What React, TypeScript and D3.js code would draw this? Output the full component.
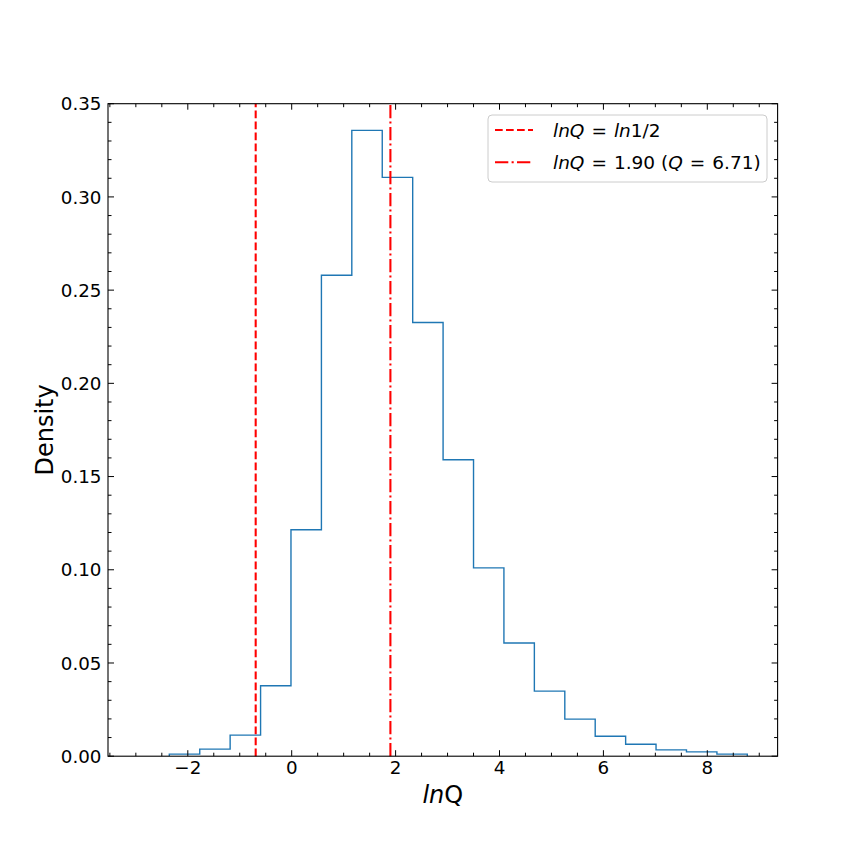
import React from "react";
import * as d3 from "d3";

// Histogram bin edges (lnQ) and densities
const binEdges = [-2.356, -1.770, -1.185, -0.599, -0.014, 0.572, 1.157, 1.743, 2.329, 2.914, 3.500, 4.085, 4.671, 5.257, 5.842, 6.428, 7.013, 7.599, 8.185, 8.770];
const densities = [0.0011, 0.0038, 0.0113, 0.0378, 0.1215, 0.258, 0.3357, 0.3105, 0.2326, 0.159, 0.101, 0.0607, 0.0349, 0.0199, 0.0107, 0.0064, 0.0034, 0.0023, 0.0011];

const xMajorTicks = [-2, 0, 2, 4, 6, 8];
const yMajorTicks = [0, 0.05, 0.1, 0.15, 0.2, 0.25, 0.3, 0.35];
const xDomain = [-3.536, 9.353];
const yDomain = [0, 0.35];

const lineHalf = Math.log(0.5);
const lineBest = 1.90;

const W = 864, H = 864;
const L = 108, R = 777.6, T = 103.7, B = 756.2;

export default function App() {
  const x = d3.scaleLinear().domain(xDomain).range([L, R]);
  const y = d3.scaleLinear().domain(yDomain).range([B, T]);

  // step outline path
  const pts: [number, number][] = [];
  pts.push([binEdges[0], 0]);
  densities.forEach((d, i) => {
    pts.push([binEdges[i], d]);
    pts.push([binEdges[i + 1], d]);
  });
  pts.push([binEdges[binEdges.length - 1], 0]);
  const line = d3.line<[number, number]>().x((d) => x(d[0])).y((d) => y(d[1]));
  const histPath = line(pts) || "";

  const xMinor = d3.range(-3.5, 9.4, 0.5).filter((v) => Math.abs(v / 2 - Math.round(v / 2)) > 1e-6);
  const yMinor = d3.range(0, 0.3501, 0.01).filter((v) => Math.abs(v / 0.05 - Math.round(v / 0.05)) > 1e-6);

  const fmtX = (v: number) => (v < 0 ? "\u2212" + Math.abs(v) : String(v));
  const fmtY = d3.format(".2f");

  const font = "DejaVu Sans, sans-serif";
  const majLen = 6, minLen = 3.5;
  const tickColor = "#000";

  return (
    <svg width={W} height={H} style={{ position: "absolute", left: 0, top: 0, background: "#fff" }} fontFamily={font}>
      <rect x={0} y={0} width={W} height={H} fill="#fff" />
      <defs>
        <clipPath id="plotclip">
          <rect x={L} y={T} width={R - L} height={B - T} />
        </clipPath>
      </defs>

      {/* histogram */}
      <path d={histPath} fill="none" stroke="#1f77b4" strokeWidth={1.4} clipPath="url(#plotclip)" />

      {/* vertical lines */}
      <line x1={x(lineHalf)} x2={x(lineHalf)} y1={B} y2={T} stroke="#ff0000" strokeWidth={2.08} strokeDasharray="7.7,3.3" />
      <line x1={x(lineBest)} x2={x(lineBest)} y1={B} y2={T} stroke="#ff0000" strokeWidth={2.08} strokeDasharray="13.3,3.3,2.1,3.3" />

      {/* ticks */}
      <g stroke={tickColor} strokeWidth={1}>
        {xMajorTicks.map((v) => (
          <g key={"xM" + v}>
            <line x1={x(v)} x2={x(v)} y1={B} y2={B - majLen} />
            <line x1={x(v)} x2={x(v)} y1={T} y2={T + majLen} />
          </g>
        ))}
        {xMinor.map((v) => (
          <g key={"xm" + v}>
            <line x1={x(v)} x2={x(v)} y1={B} y2={B - minLen} />
            <line x1={x(v)} x2={x(v)} y1={T} y2={T + minLen} />
          </g>
        ))}
        {yMajorTicks.map((v) => (
          <g key={"yM" + v}>
            <line x1={L} x2={L + majLen} y1={y(v)} y2={y(v)} />
            <line x1={R} x2={R - majLen} y1={y(v)} y2={y(v)} />
          </g>
        ))}
        {yMinor.map((v) => (
          <g key={"ym" + v}>
            <line x1={L} x2={L + minLen} y1={y(v)} y2={y(v)} />
            <line x1={R} x2={R - minLen} y1={y(v)} y2={y(v)} />
          </g>
        ))}
      </g>

      {/* spines */}
      <rect x={L} y={T} width={R - L} height={B - T} fill="none" stroke="#000" strokeWidth={1.1} />

      {/* tick labels */}
      <g fontSize={18.3} fill="#000">
        {xMajorTicks.map((v) => (
          <text key={"xl" + v} x={x(v)} y={B + 17.3} textAnchor="middle">{fmtX(v)}</text>
        ))}
        {yMajorTicks.map((v) => (
          <text key={"yl" + v} x={101.5} y={y(v) + 6.6} textAnchor="end">{fmtY(v)}</text>
        ))}
      </g>

      {/* axis labels */}
      <text x={(L + R) / 2} y={802.7} textAnchor="middle" fontSize={24}>
        <tspan fontStyle="italic">ln</tspan>Q
      </text>
      <text transform={`translate(53.3, ${(T + B) / 2}) rotate(-90)`} textAnchor="middle" fontSize={24}>Density</text>

      {/* legend */}
      <g>
        <rect x={488} y={115} width={279} height={67} rx={4} ry={4} fill="#fff" fillOpacity={0.8} stroke="#cccccc" strokeWidth={1} />
        <line x1={495} x2={533} y1={130} y2={130} stroke="#ff0000" strokeWidth={2.08} strokeDasharray="7.7,3.3" />
        <line x1={495} x2={533} y1={162.3} y2={162.3} stroke="#ff0000" strokeWidth={2.08} strokeDasharray="13.3,3.3,2.1,3.3" />
        <text x={553} y={136.6} fontSize={18.5} fill="#000">
          <tspan fontStyle="italic">lnQ</tspan>
          <tspan dx={7}>=</tspan>
          <tspan dx={7} fontStyle="italic">ln</tspan>
          <tspan>1/2</tspan>
        </text>
        <text x={553} y={168.9} fontSize={18.5} fill="#000">
          <tspan fontStyle="italic">lnQ</tspan>
          <tspan dx={7}>=</tspan>
          <tspan dx={7}>1.90 (</tspan>
          <tspan fontStyle="italic">Q</tspan>
          <tspan dx={7}>=</tspan>
          <tspan dx={7}>6.71)</tspan>
        </text>
      </g>
    </svg>
  );
}
